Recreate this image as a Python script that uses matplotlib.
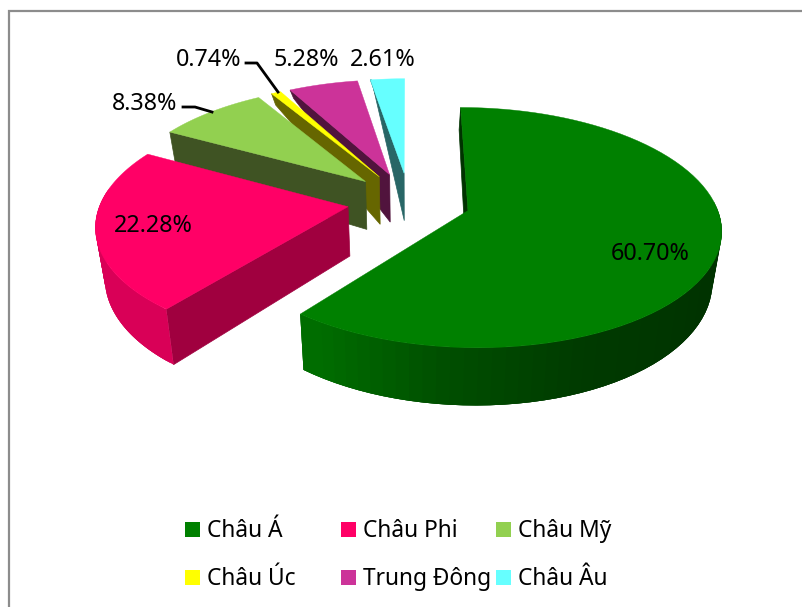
import numpy as np
import matplotlib
matplotlib.use("Agg")
import matplotlib.pyplot as plt
from matplotlib.patches import Polygon, Rectangle

# data
regions = ["Châu Á", "Châu Phi", "Châu Mỹ", "Châu Úc", "Trung Đông", "Châu Âu"]
shares = [60.70, 22.28, 8.38, 0.74, 5.28, 2.61]

# styles
top_colors = ["#008000", "#FF0066", "#92D050", "#FFFF00", "#CC3399", "#66FFFF"]
cut_colors = ["#003300", "#A0003F", "#3F5323", "#666600", "#51143D", "#286666"]

# position of the labels, in pixels
label_pos = [(650, 254), (153, 226), (145, 104), (209, 60), (306, 60), (383, 60)]
legend_x = [185, 341, 496, 185, 341, 496]
legend_y = [531, 531, 531, 579, 579, 579]
swatch_y = [529, 529, 529, 577, 577, 577]

# 3d look, fitted by eye to the picture
cx, cy = 409, 201
rx, ry = 247, 115
persp = 0.14
explode = 0.25
height = 49

plt.rcParams['font.family'] = ['Noto Sans', 'DejaVu Sans']

fig = plt.figure(figsize=(8.02, 6.07), dpi=100)
ax = fig.add_axes([0, 0, 1, 1])
ax.set_xlim(0, 802)
ax.set_ylim(607, 0)
ax.axis("off")


def top_point(x, y):
    w = 1 + persp * y
    return cx + rx * x / w, cy - ry * y / w


def low_point(x, y):
    # far away points lose their depth, that is how the original looks
    sx, sy = top_point(x, y)
    depth = min(height / (1 + persp * y), 70 * (1.236 - y))
    depth = max(depth, 0)
    return cx + (sx - cx) * 0.97, sy + depth


def shade(hex_color, k):
    c = matplotlib.colors.to_rgb(hex_color)
    return tuple(v * k for v in c)


def wall_level(t):
    return np.interp(t, [120, 155, 183, 212, 300], [0.40, 0.45, 0.60, 0.85, 0.85])


total = sum(shares)
edges = np.cumsum([0] + shares) / total * 360

# paint from the back slice to the front one
for i in [5, 4, 3, 2, 1, 0]:
    t0, t1 = edges[i], edges[i + 1]
    mid = np.radians((t0 + t1) / 2)
    ax0 = explode * np.sin(mid)
    ay0 = explode * np.cos(mid)
    thetas = np.linspace(t0, t1, 80)
    xs = ax0 + np.sin(np.radians(thetas))
    ys = ay0 + np.cos(np.radians(thetas))

    # cut face on the leading edge
    face = [top_point(xs[0], ys[0]), top_point(ax0, ay0), low_point(ax0, ay0), low_point(xs[0], ys[0])]
    ax.add_patch(Polygon(face, closed=True, fc=cut_colors[i], ec=cut_colors[i], lw=0.5))

    # outer wall, cut in strips for the gradient, each strip overlaps the next
    for j in range(len(thetas) - 1):
        if np.cos(np.radians(thetas[j])) > 0.12:
            continue
        k = min(j + 3, len(thetas) - 1)
        strip = [top_point(a, b) for a, b in zip(xs[j:k + 1], ys[j:k + 1])]
        strip += [low_point(a, b) for a, b in zip(xs[j:k + 1][::-1], ys[j:k + 1][::-1])]
        col = shade(top_colors[i], wall_level(thetas[j]))
        ax.add_patch(Polygon(strip, closed=True, fc=col, ec="none"))

    # top of the slice
    pts = [top_point(ax0, ay0)] + [top_point(a, b) for a, b in zip(xs, ys)]
    ax.add_patch(Polygon(pts, closed=True, fc=top_colors[i], ec=top_colors[i], lw=0.3))

# leader lines
ax.plot([183, 195, 212], [107, 107, 112], color="black", lw=2, solid_joinstyle="round")
ax.plot([246, 257, 278], [63, 63, 92], color="black", lw=2, solid_joinstyle="round")

for i in range(len(shares)):
    ax.text(label_pos[i][0], label_pos[i][1], f"{shares[i]:.2f}%", fontsize=16.8,
            ha="center", va="center", color="black")

# legend
for i in range(len(regions)):
    ax.add_patch(Rectangle((legend_x[i], swatch_y[i] - 7.5), 15, 15, fc=top_colors[i], ec="none"))
    ax.text(legend_x[i] + 22, legend_y[i], regions[i], fontsize=16.4, ha="left", va="center", color="black")

# frame, only the left and the top side show
ax.plot([9, 9, 802], [607, 11, 11], color="#8c8c8c", lw=1.6, solid_joinstyle="miter")

fig.savefig("out.png", dpi=100)
